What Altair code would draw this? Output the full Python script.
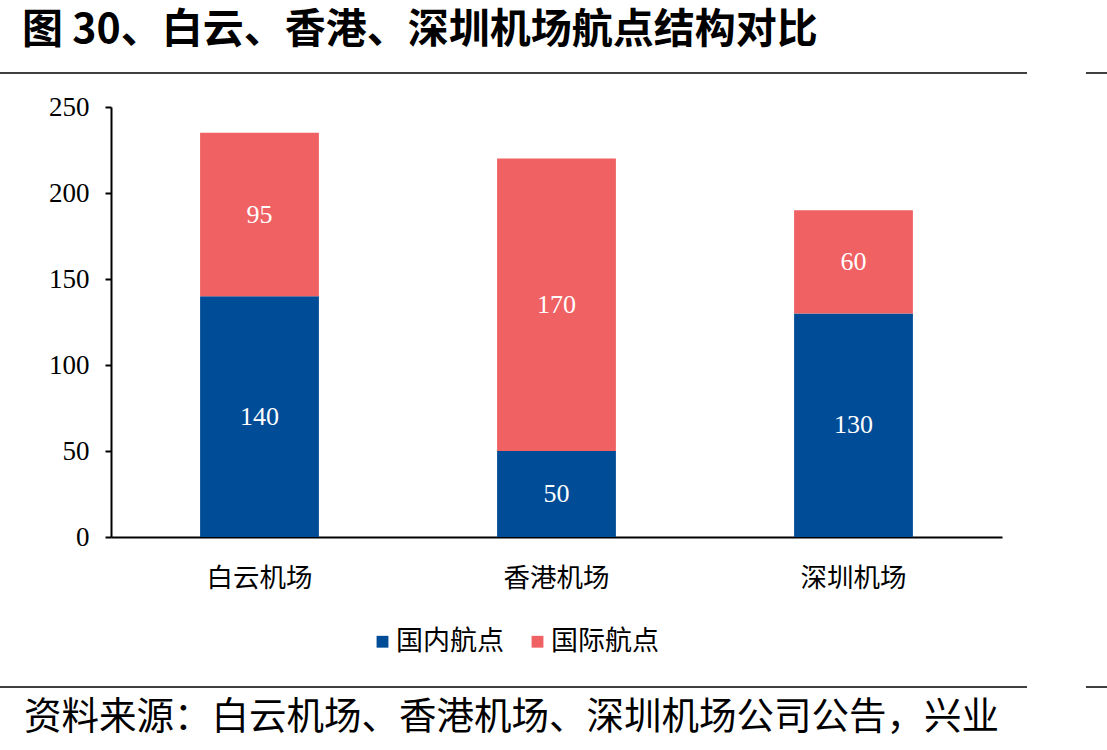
import altair as alt
import pandas as pd

airports = ["白云机场", "香港机场", "深圳机场"]
series = ["国内航点", "国际航点"]
domestic = [140, 50, 130]
international = [95, 170, 60]
y_ticks = [0, 50, 100, 150, 200, 250]
title_text = "图 30、白云、香港、深圳机场航点结构对比"
source_text = "资料来源：白云机场、香港机场、深圳机场公司公告，兴业"
colors = ["#004C97", "#EF6163"]

rows = []
for i, a in enumerate(airports):
    rows.append({"airport": a, "series": series[0], "value": domestic[i], "ord": 0})
    rows.append({"airport": a, "series": series[1], "value": international[i], "ord": 1})
df = pd.DataFrame(rows)

W, H = 891, 430
PL, PT = 111, 107

base = alt.Chart(df).transform_stack(
    stack="value", as_=["y0", "y1"], groupby=["airport"], sort=[alt.SortField("ord")]
).transform_calculate(mid="(datum.y0 + datum.y1) / 2")

xenc = alt.X("airport:N", sort=airports, title=None,
             scale=alt.Scale(paddingInner=0.6, paddingOuter=0.3),
             axis=alt.Axis(ticks=False, labelAngle=0, labelPadding=28,
                           labelFont="Noto Sans CJK SC", labelFontSize=26.5,
                           labelColor="#000000", domainColor="#000000",
                           domainWidth=2))

bars = base.mark_bar().encode(
    x=xenc,
    y=alt.Y("y0:Q", title=None,
            scale=alt.Scale(domain=[0, 250], nice=False),
            axis=alt.Axis(values=y_ticks, grid=False, tickSize=6, tickWidth=2,
                          tickColor="#000000", domainColor="#000000", domainWidth=2,
                          labelFont="Liberation Serif", labelFontSize=27,
                          labelColor="#000000", labelPadding=16)),
    y2="y1:Q",
    color=alt.Color("series:N", sort=series,
                    scale=alt.Scale(domain=series, range=colors),
                    legend=alt.Legend(title=None, orient="none", direction="horizontal",
                                      legendX=258, legendY=521,
                                      symbolType="square", symbolSize=140,
                                      symbolStrokeWidth=0, labelFontSize=27,
                                      labelFont="Noto Sans CJK SC", labelColor="#000000",
                                      labelOffset=0, columnPadding=20)),
)

labels = base.mark_text(color="white", font="Liberation Serif", fontSize=26,
                        baseline="middle").encode(
    x=alt.X("airport:N", sort=airports),
    y=alt.Y("mid:Q"),
    text=alt.Text("value:Q"),
)

one = pd.DataFrame({"k": [0]})
deco = alt.Chart(one)

title = deco.mark_text(text=title_text, font="Noto Sans CJK SC", fontWeight="bold",
                       fontSize=41, align="left", baseline="middle",
                       color="#000000").encode(x=alt.value(22 - PL), y=alt.value(31 - PT))
footer = deco.mark_text(text=source_text, font="Noto Sans CJK SC", fontSize=37.5,
                        align="left", baseline="middle",
                        color="#000000").encode(x=alt.value(24 - PL), y=alt.value(718 - PT))

rule1 = deco.mark_rule(color="#000000", strokeWidth=1.5).encode(
    x=alt.value(0 - PL), x2=alt.value(1027 - PL), y=alt.value(73 - PT))
rule2 = deco.mark_rule(color="#000000", strokeWidth=1.5).encode(
    x=alt.value(1086 - PL), x2=alt.value(1107 - PL), y=alt.value(73 - PT))
rule3 = deco.mark_rule(color="#000000", strokeWidth=1.5).encode(
    x=alt.value(0 - PL), x2=alt.value(1027 - PL), y=alt.value(687 - PT))
rule4 = deco.mark_rule(color="#000000", strokeWidth=1.5).encode(
    x=alt.value(1086 - PL), x2=alt.value(1107 - PL), y=alt.value(687 - PT))

chart = alt.layer(bars, labels, title, footer, rule1, rule2, rule3, rule4).properties(
    width=W, height=H,
    autosize=alt.AutoSizeParams(type="none"),
    padding={"left": PL, "top": PT, "right": 1107 - PL - W, "bottom": 750 - PT - H},
    background="white",
).configure_view(stroke=None)

chart.save("out.html", embed_options={"renderer": "svg", "actions": False})
